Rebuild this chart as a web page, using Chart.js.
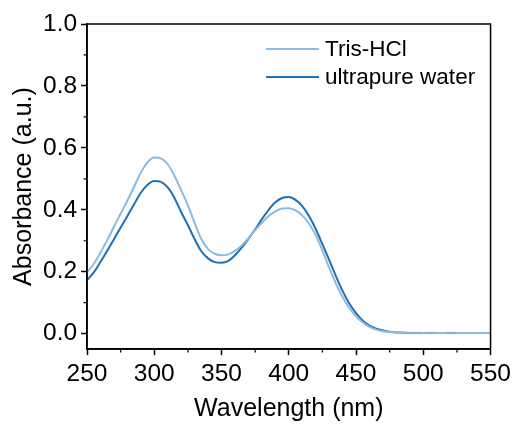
<!DOCTYPE html>
<html>
<head>
<meta charset="utf-8">
<script src="https://cdn.jsdelivr.net/npm/chart.js@4"></script>
<style>
  html, body { margin: 0; padding: 0; background: #fff; }
  #wrap { width: 515px; height: 426px; }
</style>
</head>
<body>
<div id="wrap"><canvas id="absChart"></canvas></div>
<script>
var wavelength = [250, 255, 260, 265, 270, 275, 280, 285, 290, 295,
  300, 305, 310, 315, 320, 325, 330, 335, 340, 345,
  350, 355, 360, 365, 370, 375, 380, 385, 390, 395,
  400, 405, 410, 415, 420, 425, 430, 435, 440, 445,
  450, 455, 460, 465, 470, 475, 480, 485, 490, 495,
  500, 505, 510, 515, 520, 525, 530, 535, 540, 545, 550];

var trisHCl = [0.198, 0.225, 0.262, 0.302, 0.345, 0.388, 0.430, 0.475, 0.520, 0.554,
  0.569, 0.566, 0.547, 0.510, 0.463, 0.414, 0.357, 0.305, 0.273, 0.258,
  0.253, 0.256, 0.267, 0.285, 0.308, 0.334, 0.358, 0.380, 0.395, 0.404,
  0.405, 0.398, 0.382, 0.355, 0.318, 0.268, 0.213, 0.162, 0.118, 0.083,
  0.056, 0.036, 0.022, 0.013, 0.008, 0.005, 0.004, 0.003, 0.003, 0.003,
  0.002, 0.003, 0.002, 0.002, 0.003, 0.002, 0.002, 0.002, 0.002, 0.002, 0.002];

var ultrapureWater = [0.173, 0.198, 0.232, 0.268, 0.305, 0.343, 0.380, 0.418, 0.455, 0.481,
  0.493, 0.490, 0.472, 0.438, 0.392, 0.350, 0.305, 0.266, 0.243, 0.231,
  0.229, 0.235, 0.253, 0.278, 0.306, 0.337, 0.370, 0.400, 0.424, 0.438,
  0.441, 0.432, 0.412, 0.380, 0.338, 0.289, 0.238, 0.186, 0.138, 0.097,
  0.066, 0.042, 0.026, 0.016, 0.010, 0.006, 0.004, 0.003, 0.002, 0.002,
  0.002, 0.002, 0.002, 0.002, 0.002, 0.002, 0.002, 0.002, 0.002, 0.002, 0.002];

var xTicks = [250, 300, 350, 400, 450, 500, 550];
var xMinor = [275, 325, 375, 425, 475, 525];
var yTicks = [0.0, 0.2, 0.4, 0.6, 0.8, 1.0];
var yMinor = [0.1, 0.3, 0.5, 0.7, 0.9];

function toPoints(ys) {
  return wavelength.map(function (x, i) { return { x: x, y: ys[i] }; });
}

var font = "'Liberation Sans', Arial, sans-serif";

// frame box, minor ticks and the legend inside the plot
var extras = {
  id: 'extras',
  afterDraw: function (chart) {
    var c = chart.ctx, a = chart.chartArea;
    var xs = chart.scales.x, ys = chart.scales.y;
    c.save();
    c.strokeStyle = '#000';
    c.lineWidth = 1.5;
    c.strokeRect(a.left, a.top, a.right - a.left, a.bottom - a.top);
    c.lineWidth = 1.2;
    c.beginPath();
    xMinor.forEach(function (v) {
      var px = xs.getPixelForValue(v);
      c.moveTo(px, a.bottom);
      c.lineTo(px, a.bottom + 3.5);
    });
    yMinor.forEach(function (v) {
      var py = ys.getPixelForValue(v);
      c.moveTo(a.left, py);
      c.lineTo(a.left - 3.5, py);
    });
    c.stroke();

    c.font = '22.5px ' + font;
    c.fillStyle = '#000';
    c.textBaseline = 'middle';
    chart.data.datasets.forEach(function (ds, i) {
      var y = a.top + 25 + i * 28;
      c.strokeStyle = ds.borderColor;
      c.lineWidth = 2.2;
      c.beginPath();
      c.moveTo(a.left + 179, y);
      c.lineTo(a.left + 232, y);
      c.stroke();
      c.fillText(ds.label, a.left + 238, y + 1);
    });
    c.restore();
  }
};

var ctx = document.getElementById('absChart').getContext('2d');

var myChart = new Chart(ctx, {
  type: 'line',
  data: {
    datasets: [{
        label: 'Tris-HCl',
        data: toPoints(trisHCl),
        borderColor: '#8DBAE0',
        borderWidth: 2,
        pointRadius: 0,
        cubicInterpolationMode: 'monotone',
        fill: false
      },
      {
        label: 'ultrapure water',
        data: toPoints(ultrapureWater),
        borderColor: '#1F6FB2',
        borderWidth: 2,
        pointRadius: 0,
        cubicInterpolationMode: 'monotone',
        fill: false
      }
    ]
  },
  options: {
    responsive: true,
    maintainAspectRatio: false,
    animation: false,
    layout: {
      padding: { left: 2, right: 24, top: 24, bottom: 0 }
    },
    plugins: {
      legend: { display: false },
      tooltip: { enabled: false }
    },
    scales: {
      x: {
        type: 'linear',
        min: 250,
        max: 550,
        afterBuildTicks: function (scale) {
          scale.ticks = xTicks.map(function (v) { return { value: v }; });
        },
        ticks: {
          color: '#000',
          padding: 4,
          maxRotation: 0,
          font: { family: font, size: 24.5 }
        },
        grid: {
          drawOnChartArea: false,
          drawTicks: true,
          tickLength: 6,
          tickColor: '#000',
          tickWidth: 1.5
        },
        border: { display: true, color: '#000', width: 1.5 },
        title: {
          display: true,
          text: 'Wavelength (nm)',
          color: '#000',
          padding: { top: 1.5, bottom: 2 },
          font: { family: font, size: 25 }
        }
      },
      y: {
        type: 'linear',
        min: -0.05,
        max: 1.0,
        afterBuildTicks: function (scale) {
          scale.ticks = yTicks.map(function (v) { return { value: v }; });
        },
        ticks: {
          color: '#000',
          padding: 4,
          font: { family: font, size: 24.5 },
          callback: function (v) { return v.toFixed(1); }
        },
        grid: {
          drawOnChartArea: false,
          drawTicks: true,
          tickLength: 6,
          tickColor: '#000',
          tickWidth: 1.5
        },
        border: { display: true, color: '#000', width: 1.5 },
        title: {
          display: true,
          text: 'Absorbance (a.u.)',
          color: '#000',
          padding: { top: 7, bottom: 0 },
          font: { family: font, size: 25 }
        }
      }
    }
  },
  plugins: [extras]
});
</script>
</body>
</html>
